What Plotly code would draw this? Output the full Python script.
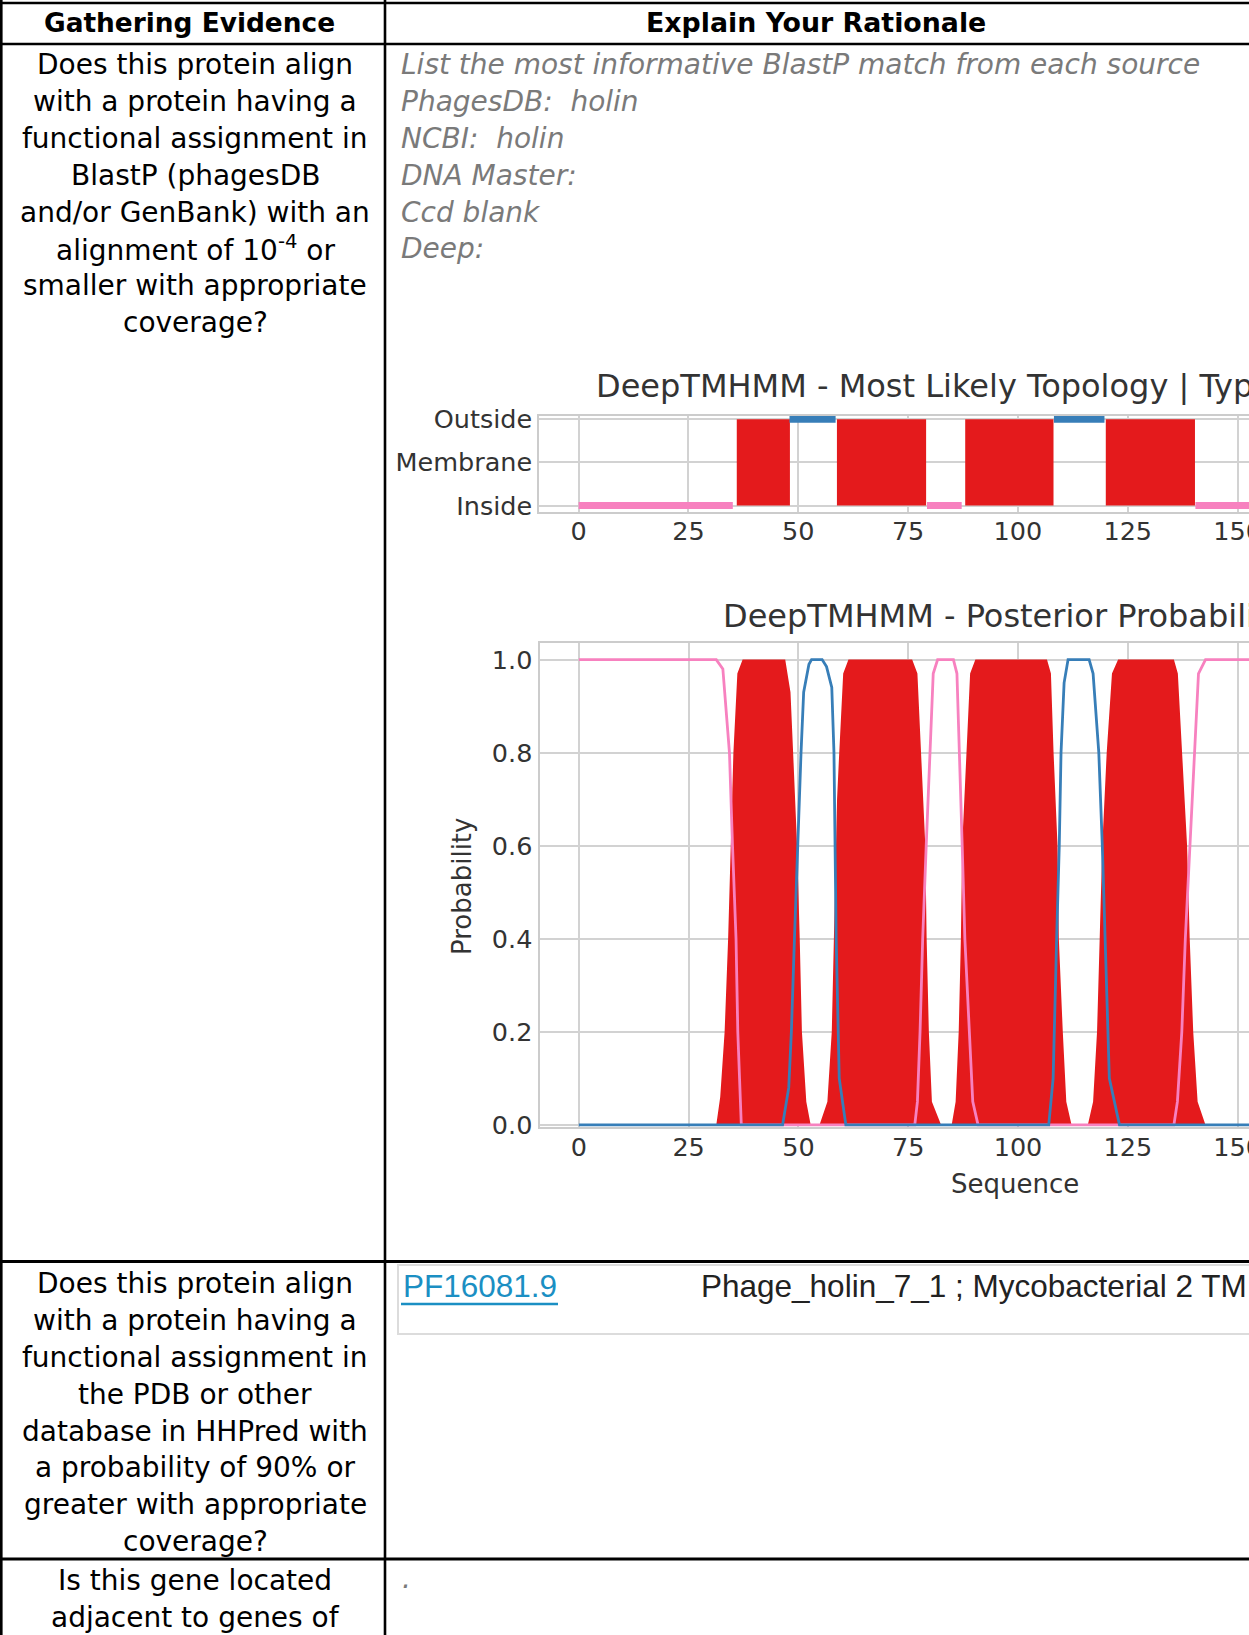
import plotly.graph_objects as go

W, H = 1249, 1635

# ---------------- data ----------------
header_labels = ["Gathering Evidence", "Explain Your Rationale"]
row1_question = ["Does this protein align", "with a protein having a", "functional assignment in",
                 "BlastP (phagesDB", "and/or GenBank) with an", "alignment of 10<sup>-4</sup> or",
                 "smaller with appropriate", "coverage?"]
row1_answer = ["List the most informative BlastP match from each source",
               "PhagesDB:\u00a0 holin", "NCBI:\u00a0 holin", "DNA Master:", "Ccd blank", "Deep:"]
row2_question = ["Does this protein align", "with a protein having a", "functional assignment in",
                 "the PDB or other", "database in HHPred with", "a probability of 90% or",
                 "greater with appropriate", "coverage?"]
row3_question = ["Is this gene located", "adjacent to genes of"]
row3_answer = ["."]
hhpred_hit_id = "PF16081.9"
hhpred_hit_desc = "Phage_holin_7_1 ; Mycobacterial 2 TM holin"

topo_title = "DeepTMHMM - Most Likely Topology | Type: TM"
post_title = "DeepTMHMM - Posterior Probabilities"
topo_labels = ["Inside", "Membrane", "Outside"]
topo_inside_start = [0, 79.3, 140.4]
topo_inside_end = [35.1, 87.2, 170]
topo_outside_start = [48, 108.2]
topo_outside_end = [58.5, 119.7]
topo_tm_start = [36, 58.8, 88, 120]
topo_tm_end = [48.1, 79.1, 108.1, 140.3]

seq_ticks = [0, 25, 50, 75, 100, 125, 150]
prob_ticks = [0.0, 0.2, 0.4, 0.6, 0.8, 1.0]

post_tm_x = [0, 31.3, 32.2, 33.2, 34.0, 34.6, 35.2, 36.1, 37.3, 47.0, 48.2, 48.8, 49.7, 50.3, 50.8, 51.8, 52.8,
             54.8, 56.6, 57.6, 58.3, 58.8, 59.3, 60.2, 61.4, 75.9, 77.1, 78.0, 78.9, 79.2, 79.7, 80.4, 82.5,
             84.9, 85.8, 86.5, 87.0, 87.3, 88.2, 89.1, 90.3, 106.6, 107.5, 108.1, 109.0, 109.3, 110.2, 111.0, 112.2,
             115.9, 117.1, 118.0, 118.6, 119.2, 120.2, 121.4, 122.8, 135.5, 136.4, 137.3, 138.5, 139.1, 139.9, 140.9, 142.7,
             170]
post_tm_y = [0, 0, 0.06, 0.2, 0.4, 0.6, 0.8, 0.97, 1.0, 1.0, 0.93, 0.8, 0.6, 0.4, 0.2, 0.05, 0,
             0, 0.05, 0.2, 0.5, 0.7, 0.8, 0.97, 1.0, 1.0, 0.97, 0.8, 0.6, 0.4, 0.2, 0.05, 0,
             0, 0.05, 0.2, 0.4, 0.6, 0.8, 0.97, 1.0, 1.0, 0.97, 0.8, 0.6, 0.4, 0.2, 0.05, 0,
             0, 0.05, 0.2, 0.4, 0.6, 0.8, 0.97, 1.0, 1.0, 0.97, 0.8, 0.6, 0.4, 0.2, 0.05, 0,
             0]
post_in_x = [0, 31.3, 32.8, 34.3, 35.0, 35.8, 36.2, 37.0, 76.5, 77.1, 77.7, 78.3, 79.1, 79.9, 80.7, 81.7,
             85.3, 86.1, 86.7, 87.3, 87.9, 88.9, 89.7, 90.9, 135.5, 136.3, 137.3, 138.1, 139.1, 140.2, 141.1,
             142.7, 170]
post_in_y = [1, 1, 0.98, 0.8, 0.6, 0.4, 0.2, 0, 0, 0.05, 0.2, 0.4, 0.6, 0.8, 0.97, 1.0,
             1.0, 0.97, 0.8, 0.6, 0.4, 0.2, 0.05, 0, 0, 0.05, 0.2, 0.4, 0.6, 0.8, 0.97,
             1.0, 1.0]
post_out_x = [0, 46.4, 47.8, 48.4, 49.1, 50.0, 50.6, 51.2, 52.4, 53.0, 55.4, 56.4, 57.6, 58.1, 58.3, 58.6,
              59.3, 60.8, 107.0, 108.0, 108.8, 109.4, 109.8, 110.5, 111.4, 116.2, 117.1, 118.4, 119.2, 119.8,
              120.8, 123.1, 170]
post_out_y = [0, 0, 0.08, 0.2, 0.4, 0.65, 0.8, 0.93, 0.99, 1.0, 1.0, 0.985, 0.94, 0.8, 0.6, 0.4,
              0.1, 0, 0, 0.1, 0.4, 0.6, 0.8, 0.95, 1.0, 1.0, 0.97, 0.8, 0.6, 0.4,
              0.1, 0, 0]

# ---------------- styles ----------------
RED = "#e41a1c"
PINK = "#f781bf"
BLUE = "#377eb8"
GRID = "#d2d2d2"
TXT = "#333333"
SANS = "DejaVu Sans"
ARIAL = "Liberation Sans, Arial"


def px(x):
    return x / W


def py(y):
    return 1 - y / H


shapes = []
annotations = []


def hline(x0, x1, y, color, width):
    shapes.append(dict(type="line", xref="paper", yref="paper", x0=px(x0), x1=px(x1), y0=py(y), y1=py(y),
                       line=dict(color=color, width=width), layer="above"))


def vline(x, y0, y1, color, width):
    shapes.append(dict(type="line", xref="paper", yref="paper", x0=px(x), x1=px(x), y0=py(y0), y1=py(y1),
                       line=dict(color=color, width=width), layer="above"))


def text(x, base, s, size, color, family=SANS, anchor="center"):
    annotations.append(dict(xref="paper", yref="paper", x=px(x), y=py(base - 0.346 * size), text=s,
                            showarrow=False, xanchor=anchor, yanchor="middle",
                            font=dict(family=family, size=size, color=color)))


# table grid
hline(0, W + 10, 3, "black", 2.6)
hline(0, W + 10, 44, "black", 2.6)
hline(0, W + 10, 1261.5, "black", 3)
hline(0, W + 10, 1559, "black", 3)
vline(1.3, 0, H + 10, "black", 2.6)
vline(385, 0, H + 10, "black", 2.6)

# header
text(189.5, 31.7, "<b>%s</b>" % header_labels[0], 26.4, "black")
text(816, 31.7, "<b>%s</b>" % header_labels[1], 26.8, "black")

LS = 36.8
B1, B2, B3 = 74.6, 1293.5, 1590.0
for i, s in enumerate(row1_question):
    text(195, B1 + i * LS, s, 28, "black")
for i, s in enumerate(row1_answer):
    text(399, B1 + i * LS, "<i>%s</i>" % s, 28, "#7a7a7a", anchor="left")
for i, s in enumerate(row2_question):
    text(195, B2 + i * LS, s, 28, "black")
for i, s in enumerate(row3_question):
    text(195, B3 + i * LS, s, 28, "black")
text(400, B3 - 1.5, "<i>%s</i>" % row3_answer[0], 28, "#7a7a7a", anchor="left")

# HHpred hit box
shapes.append(dict(type="rect", xref="paper", yref="paper", x0=px(398), x1=px(W + 20), y0=py(1334), y1=py(1265),
                   line=dict(color="#dcdcdc", width=2), layer="above"))
text(401, 1296.7, hhpred_hit_id, 31.5, "#1b8fc3", family=ARIAL, anchor="left")
hline(401, 558, 1304, "#1b8fc3", 2.6)
text(699, 1296.7, hhpred_hit_desc, 31.5, "#222222", family=ARIAL, anchor="left")

# chart titles / axis titles
text(594, 396.7, topo_title, 32, TXT, anchor="left")
text(721, 627.3, post_title, 32, TXT, anchor="left")
annotations.append(dict(xref="paper", yref="paper", x=px(462), y=py(887), text="Probability", showarrow=False,
                        xanchor="center", yanchor="middle", textangle=-90,
                        font=dict(family=SANS, size=26, color=TXT)))
text(1015, 1193, "Sequence", 26, TXT)

# ---------------- traces ----------------
fig = go.Figure()

y_in = topo_labels.index("Inside")
y_out = topo_labels.index("Outside")

fig.add_trace(go.Bar(
    x=[(s + e) / 2 for s, e in zip(topo_tm_start, topo_tm_end)],
    y=[y_out - y_in] * len(topo_tm_start),
    base=[y_in] * len(topo_tm_start),
    width=[e - s for s, e in zip(topo_tm_start, topo_tm_end)],
    marker=dict(color=RED, line=dict(width=0)),
    xaxis="x", yaxis="y", hoverinfo="skip"))


def segs(starts, ends, level):
    xs, ys = [], []
    for s, e in zip(starts, ends):
        xs += [s, e, None]
        ys += [level, level, None]
    return xs, ys


xs, ys = segs(topo_inside_start, topo_inside_end, y_in)
fig.add_trace(go.Scatter(x=xs, y=ys, mode="lines", line=dict(color=PINK, width=7),
                         xaxis="x", yaxis="y", hoverinfo="skip"))
xs, ys = segs(topo_outside_start, topo_outside_end, y_out)
fig.add_trace(go.Scatter(x=xs, y=ys, mode="lines", line=dict(color=BLUE, width=7),
                         xaxis="x", yaxis="y", hoverinfo="skip"))

fig.add_trace(go.Scatter(x=post_tm_x, y=post_tm_y, mode="lines", fill="tozeroy", fillcolor=RED,
                         line=dict(color=RED, width=0), xaxis="x2", yaxis="y2", hoverinfo="skip"))
fig.add_trace(go.Scatter(x=post_in_x, y=post_in_y, mode="lines", line=dict(color=PINK, width=2.8),
                         xaxis="x2", yaxis="y2", hoverinfo="skip"))
fig.add_trace(go.Scatter(x=post_out_x, y=post_out_y, mode="lines", line=dict(color=BLUE, width=2.8),
                         xaxis="x2", yaxis="y2", hoverinfo="skip"))

XR = [-8.95, 152.6]
tickfont = dict(family=SANS, size=25.5, color=TXT)
common_x = dict(range=XR, tickvals=seq_ticks, ticktext=[str(t) for t in seq_ticks], showgrid=True,
                gridcolor=GRID, gridwidth=1.6, zeroline=False, showline=True, mirror=True,
                linecolor="#cccccc", linewidth=2, ticks="", tickfont=tickfont, fixedrange=True,
                ticklabeloverflow="allow", automargin=False, ticklabelstandoff=-4)

fig.update_layout(
    width=W, height=H, margin=dict(l=0, r=0, t=0, b=0, pad=0, autoexpand=False), autosize=False,
    paper_bgcolor="white", plot_bgcolor="white", showlegend=False,
    xaxis=dict(domain=[px(539.3), 1], anchor="y", **common_x),
    yaxis=dict(domain=[py(511.7), py(416)], anchor="x", range=[-0.141, 2.076],
               tickvals=[0, 1, 2], ticktext=topo_labels, showgrid=True, gridcolor=GRID, gridwidth=1.6,
               zeroline=False, showline=True, linecolor="#cccccc", linewidth=2, ticks="",
               tickfont=tickfont, fixedrange=True, automargin=False),
    xaxis2=dict(domain=[px(539.5), 1], anchor="y2", **common_x),
    yaxis2=dict(domain=[py(1127), py(643.3)], anchor="x2", range=[-0.0045, 1.035],
                tickvals=prob_ticks, ticktext=["%.1f" % t for t in prob_ticks], showgrid=True,
                gridcolor=GRID, gridwidth=1.6, zeroline=False, showline=True, linecolor="#cccccc",
                linewidth=2, ticks="", tickfont=tickfont, fixedrange=True, automargin=False),
    shapes=shapes, annotations=annotations,
)

fig.write_html("out.html", config={"displayModeBar": False},
               post_script="document.body.style.margin='0px';")
